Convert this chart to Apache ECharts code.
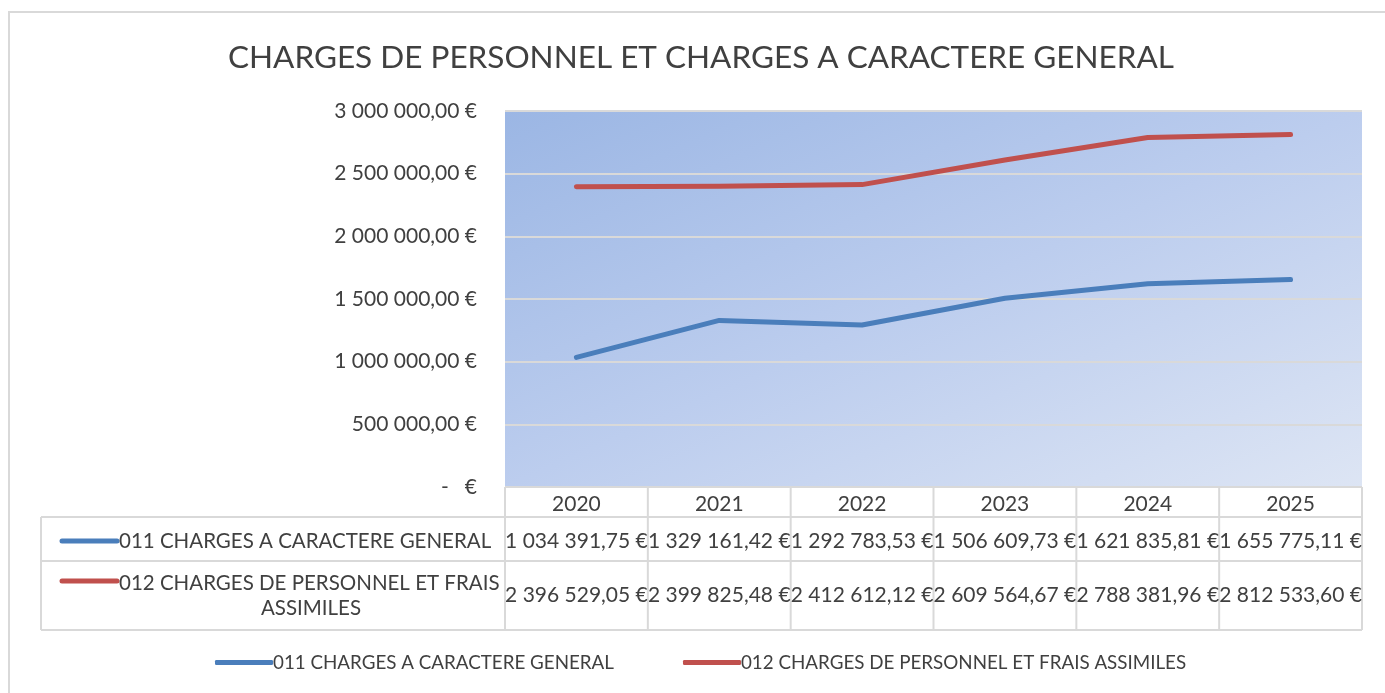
<!DOCTYPE html>
<html>
<head>
<meta charset="utf-8">
<script src="https://cdn.jsdelivr.net/npm/echarts@6/dist/echarts.min.js"></script>
<style>
  html, body { margin: 0; padding: 0; background: #fff; }
  #main { width: 1385px; height: 693px; }
</style>
</head>
<body>
<div id="main"></div>
<script>
// données
var years = ['2020', '2021', '2022', '2023', '2024', '2025'];
var chargesGenerales = [1034391.75, 1329161.42, 1292783.53, 1506609.73, 1621835.81, 1655775.11];
var chargesPersonnel = [2396529.05, 2399825.48, 2412612.12, 2609564.67, 2788381.96, 2812533.60];
var serieNames = ['011 CHARGES A CARACTERE GENERAL', '012 CHARGES DE PERSONNEL ET FRAIS ASSIMILES'];
var rowLabels = [['011 CHARGES A CARACTERE GENERAL'], ['012 CHARGES DE PERSONNEL ET FRAIS', 'ASSIMILES']];
var colors = ['#4a7ebb', '#c0504d'];

var font = 'Lato';
var txt = '#404040';
var lineCol = '#d9d9d9';

function euro(v) {
  if (v === 0) return '-   €';
  var parts = v.toFixed(2).split('.');
  var ent = parts[0].replace(/\B(?=(\d{3})+(?!\d))/g, ' ');
  return ent + ',' + parts[1] + ' €';
}

// tableau sous le graphique
var plotL = 505, plotR = 1362, plotT = 111, plotB = 487;
var rowY = [487, 517, 561, 630];
var tabL = 41;
var colW = (plotR - plotL) / years.length;
var g = [];
// lignes horizontales
g.push({ type: 'line', shape: { x1: plotL, y1: rowY[0], x2: plotR, y2: rowY[0] }, style: { stroke: lineCol, lineWidth: 2 } });
for (var r = 1; r < rowY.length; r++) {
  g.push({ type: 'line', shape: { x1: tabL, y1: rowY[r], x2: plotR, y2: rowY[r] }, style: { stroke: lineCol, lineWidth: 2 } });
}
// lignes verticales
g.push({ type: 'line', shape: { x1: tabL, y1: rowY[1], x2: tabL, y2: rowY[3] }, style: { stroke: lineCol, lineWidth: 2 } });
for (var c = 0; c <= years.length; c++) {
  var x = plotL + c * colW;
  g.push({ type: 'line', shape: { x1: x, y1: rowY[0], x2: x, y2: rowY[3] }, style: { stroke: lineCol, lineWidth: 2 } });
}
// libellés de lignes
var keyY = [541, 581];
[chargesGenerales, chargesPersonnel].forEach(function (serie, i) {
  g.push({ type: 'line', shape: { x1: 62, y1: keyY[i], x2: 117, y2: keyY[i] }, style: { stroke: colors[i], lineWidth: 5, lineCap: 'round' } });
  if (rowLabels[i].length === 1) {
    g.push({ type: 'text', x: 119, y: keyY[i], style: { text: rowLabels[i][0], font: '20.5px ' + font, fill: txt, textAlign: 'left', textVerticalAlign: 'middle' } });
  } else {
    g.push({ type: 'text', x: 119, y: 583, style: { text: rowLabels[i][0], font: '20.5px ' + font, fill: txt, textAlign: 'left', textVerticalAlign: 'middle' } });
    g.push({ type: 'text', x: 311, y: 608, style: { text: rowLabels[i][1], font: '20.5px ' + font, fill: txt, textAlign: 'center', textVerticalAlign: 'middle' } });
  }
  var cy = i === 0 ? 541 : 595;
  serie.forEach(function (v, k) {
    g.push({ type: 'text', x: plotL + (k + 0.5) * colW, y: cy, style: { text: euro(v), font: '21px ' + font, fill: txt, textAlign: 'center', textVerticalAlign: 'middle' } });
  });
});
// cadre extérieur
g.push({ type: 'polyline', shape: { points: [[9, 693], [9, 12], [1385, 12]] }, style: { stroke: lineCol, lineWidth: 2, fill: null } });

// dégradé diagonal du fond de la zone de tracé
var gw = plotR - plotL, gh = plotB - plotT;
var k2 = 2 * gw * gh / (gw * gw + gh * gh);

var options = {
  backgroundColor: '#fff',
  animation: false,
  title: {
    text: 'CHARGES DE PERSONNEL ET CHARGES A CARACTERE GENERAL',
    left: 696, top: 37, textAlign: 'center',
    textStyle: { fontFamily: font, fontSize: 31.5, fontWeight: 'normal', color: txt }
  },
  grid: {
    left: plotL, right: 1385 - plotR, top: plotT, bottom: 693 - plotB,
    show: true, borderWidth: 0,
    backgroundColor: new echarts.graphic.LinearGradient(plotL, plotT, plotL + gh * k2, plotT + gw * k2, [
      { offset: 0, color: '#9bb6e4' },
      { offset: 0.5, color: '#bccdee' },
      { offset: 1, color: '#dde5f4' }
    ], true)
  },
  legend: {
    left: 215, top: 653, padding: 0,
    itemWidth: 58, itemHeight: 5, itemGap: 69,
    icon: 'roundRect',
    textStyle: { fontFamily: font, fontSize: 18.8, color: txt, padding: [0, 0, 0, -5] },
    data: serieNames
  },
  xAxis: {
    type: 'category', data: years, boundaryGap: true,
    axisLine: { show: false }, axisTick: { show: false },
    axisLabel: { margin: 7, fontFamily: font, fontSize: 21, color: txt }
  },
  yAxis: {
    type: 'value', min: 0, max: 3000000, interval: 500000,
    axisLine: { show: false }, axisTick: { show: false },
    splitLine: { lineStyle: { color: lineCol, width: 2 } },
    axisLabel: { margin: 28, fontFamily: font, fontSize: 21, color: txt, formatter: euro }
  },
  series: [
    {
      name: serieNames[0], type: 'line', data: chargesGenerales, showSymbol: false, symbol: 'none',
      itemStyle: { color: colors[0] },
      lineStyle: { color: colors[0], width: 5, cap: 'round', join: 'round' }
    },
    {
      name: serieNames[1], type: 'line', data: chargesPersonnel, showSymbol: false, symbol: 'none',
      itemStyle: { color: colors[1] },
      lineStyle: { color: colors[1], width: 5, cap: 'round', join: 'round' }
    }
  ],
  graphic: g
};

var chart = echarts.init(document.querySelector('#main'));
chart.setOption(options);
</script>
</body>
</html>
